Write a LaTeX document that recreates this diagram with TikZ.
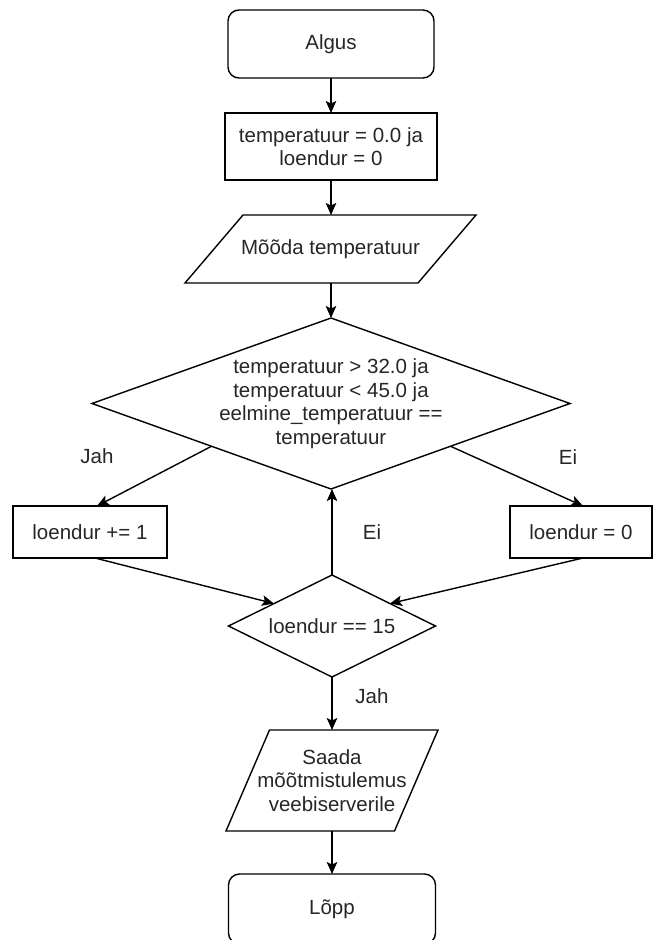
\documentclass[tikz,border=0pt]{standalone}
\usepackage{fontspec}
\setmainfont{Liberation Sans}
\usetikzlibrary{shapes.geometric,arrows.meta,calc}
\begin{document}
\begin{tikzpicture}[x=1pt,y=-1pt,
  every node/.style={font=\fontsize{20.5}{23.5}\selectfont, text=black!85},
  box/.style={draw, rectangle, inner sep=0pt, outer sep=0pt},
  termbox/.style={box, rounded corners=11pt},
  plain/.style={rectangle, inner sep=0pt, outer sep=0pt, align=center},
  dec/.style={draw, diamond, inner sep=0pt, outer sep=0pt, aspect=2},
  lbl/.style={inner sep=0pt},
  conn/.style={-{Stealth[length=12pt,width=10.5pt,inset=2.5pt]}},
  line width=1.4pt]
\useasboundingbox (0,0) rectangle (657,940);
\clip (0,0) rectangle (657,940);

\node[termbox, minimum width=206pt, minimum height=68pt] (algus) at (331,44) {Algus};
\node[box, minimum width=212pt, minimum height=67pt, align=center] (init) at (331,146.5) {temperatuur = 0.0 ja\\loendur = 0};
\node[plain, minimum width=233pt, minimum height=68pt] (p1) at (330.5,249) {Mõõda temperatuur};
\draw ([xshift=29pt]p1.north west) -- ([xshift=29pt]p1.north east) -- ([xshift=-29pt]p1.south east) -- ([xshift=-29pt]p1.south west) -- cycle;

\node[dec, minimum width=478pt, minimum height=171pt,
  label={[name=d1text, align=center, inner sep=0pt]center:{temperatuur > 32.0 ja\\temperatuur < 45.0 ja\\eelmine\_temperatuur ==\\temperatuur}}] (d1) at (331,403.5) {};

\node[box, minimum width=154pt, minimum height=52pt] (l1) at (90,532) {loendur += 1};
\node[box, minimum width=142pt, minimum height=52pt] (r1) at (581,532) {loendur = 0};

\node[dec, minimum width=207pt, minimum height=102pt] (d2) at (332,626) {loendur == 15};

\node[plain, minimum width=168.5pt, minimum height=101pt] (p2) at (332,780.5) {Saada\\mõõtmistulemus\\veebiserverile};
\draw ([xshift=21.75pt]p2.north west) -- ([xshift=21.75pt]p2.north east) -- ([xshift=-21.75pt]p2.south east) -- ([xshift=-21.75pt]p2.south west) -- cycle;

\node[termbox, minimum width=207pt, minimum height=70pt] (lopp) at (332,909) {Lõpp};

\draw[conn] (algus.south) -- (algus.south |- init.north);
\draw[conn] (init.south) -- (init.south |- p1.north);
\draw[conn] (d1.north |- p1.south) -- (d1.north);
\draw[conn] (d1.south west) -- ([xshift=7pt]l1.north);
\draw[conn] (d1.south east) -- ([xshift=2pt]r1.north);
\draw[conn] ([xshift=5pt]l1.south) -- ($(d2.west)!0.44!(d2.north)$);
\draw[conn] ([xshift=2pt]r1.south) -- ($(d2.east)!0.44!(d2.north)$);
\draw[conn] (d2.north) -- (d2.north |- d1.south);
\draw[conn] (d2.south) -- (d2.south |- p2.north);
\draw[conn] (p2.south) -- (p2.south |- lopp.north);

\node[lbl] (jah1) at (97,456) {Jah};
\node[lbl] (ei1) at (568,457) {Ei};
\node[lbl] (ei2) at (372,532) {Ei};
\node[lbl] (jah2) at (372,696) {Jah};
\end{tikzpicture}
\end{document}
